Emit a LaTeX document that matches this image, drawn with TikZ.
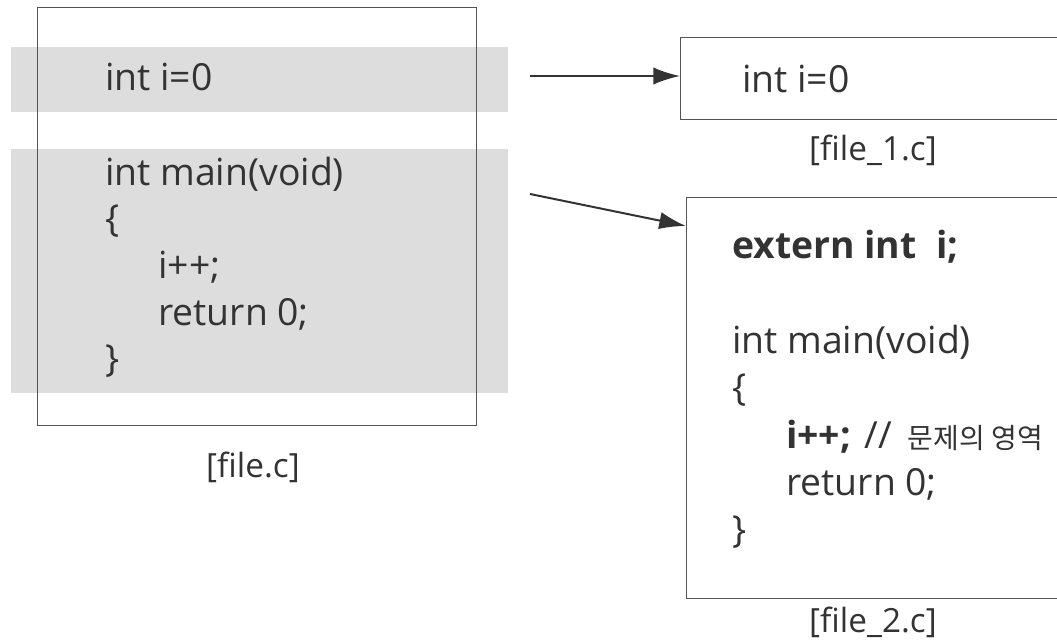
\documentclass[tikz,border=0pt]{standalone}
\usepackage{fontspec}
\setmainfont{Open Sans}
\newfontfamily\krfont{Noto Sans CJK KR}
\usetikzlibrary{arrows.meta,calc}
\definecolor{ink}{HTML}{333333}
\definecolor{band}{HTML}{DDDDDD}
\definecolor{frame}{HTML}{555555}
\begin{document}
\begin{tikzpicture}[x=0.75pt,y=-0.75pt,
  code/.style={anchor=base west,inner sep=0pt,text=ink,font=\fontsize{28}{32}\selectfont},
  filecap/.style={anchor=base,inner sep=0pt,text=ink,font=\fontsize{25}{29}\selectfont},
  filebox/.style={draw=frame,line width=1.1pt,inner sep=0pt,anchor=north west},
  link/.style={draw=ink,line width=1.5pt,-{Latex[length=20pt,width=13pt]}}]
\useasboundingbox (0,0) rectangle (1057,640);
% shaded regions of file.c
\fill[band] (11,47) rectangle (508,112);
\fill[band] (11,149) rectangle (508,393);
% file.c
\node[filebox,minimum width={439*0.75pt},minimum height={418*0.75pt}] (src) at (37,7) {};
\node[code] (s1) at (105,90) {int i=0};
\node[code] (s2) at (105,185) {int main(void)};
\node[code] (s3) at (105,231) {\{};
\node[code] (s4) at (158,278) {i++;};
\node[code] (s5) at (158,325) {return 0;};
\node[code] (s6) at (105,371) {\}};
\node[filecap] (srccap) at (253,477) {[file.c]};
% file_1.c
\node[filebox,minimum width={400*0.75pt},minimum height={82*0.75pt}] (f1) at (680,37) {};
\node[code] (f1a) at (742,92) {int i=0};
\node[filecap] (f1cap) at (873,160) {[file\_1.c]};
% file_2.c
\node[filebox,minimum width={400*0.75pt},minimum height={401*0.75pt}] (f2) at (686,197) {};
\node[code,font=\fontsize{28}{32}\selectfont\bfseries] (f2a) at (732,258) {extern int\ \ i;};
\node[code] (f2b) at (732,353) {int main(void)};
\node[code] (f2c) at (732,400) {\{};
\node[code] (f2d) at (786,448) {\textbf{i++;}\hspace{10pt}//\hspace{12pt}{\krfont\fontsize{21}{25}\selectfont 문제의 영역}};
\node[code] (f2e) at (786,495) {return 0;};
\node[code] (f2f) at (732,542) {\}};
\node[filecap] (f2cap) at (873,632) {[file\_2.c]};
% arrows
\coordinate (a1) at (530,76);
\coordinate (a2) at (530,194);
\draw[link] (a1) -- (a1 -| f1.west);
\draw[link] (a2) -- ($(f2.north west)+(0,29)$);
\end{tikzpicture}
\end{document}
